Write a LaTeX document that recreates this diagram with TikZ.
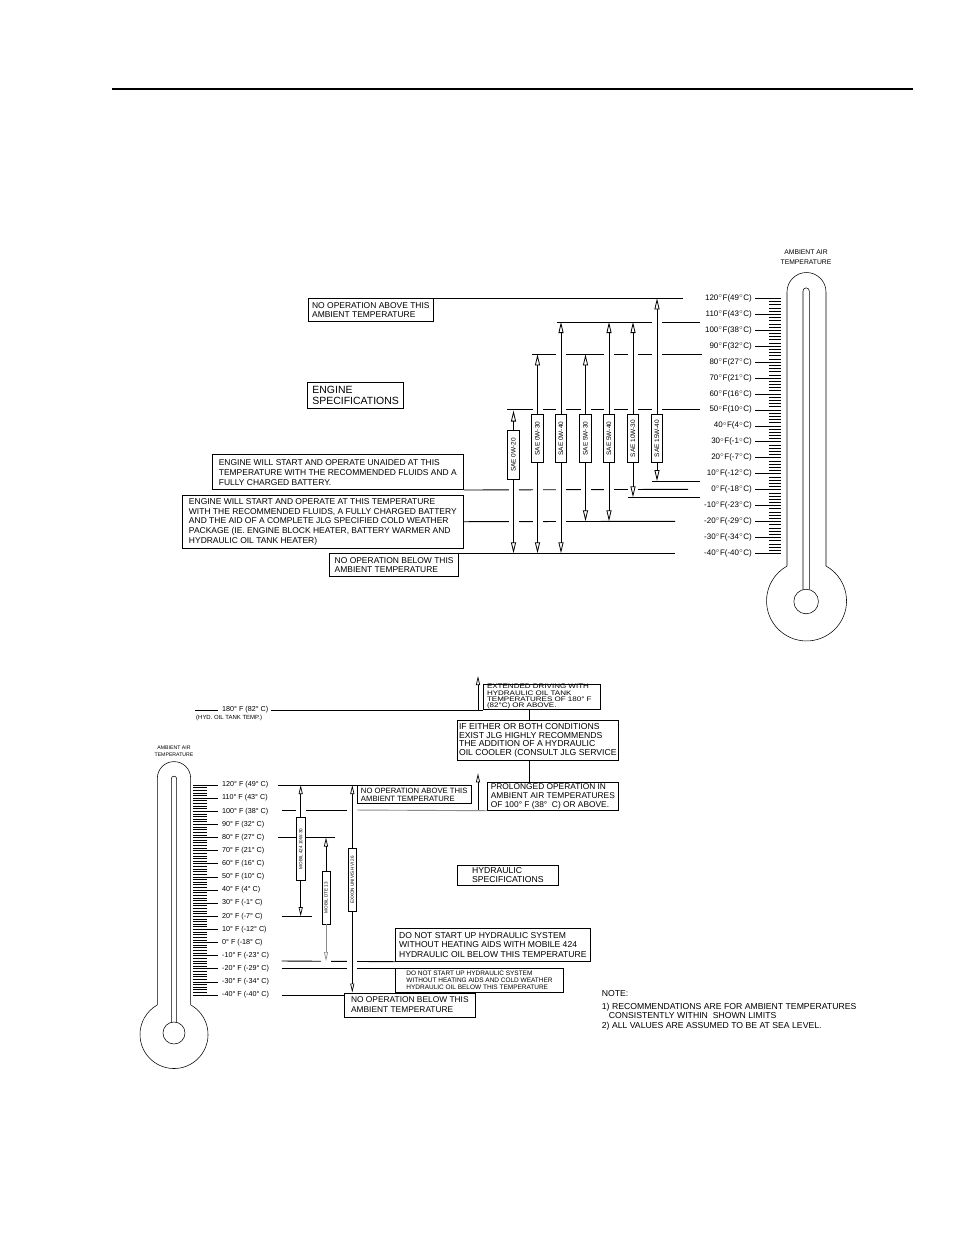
\documentclass[tikz,border=0pt]{standalone}
\usepackage{fontspec}
\setmainfont{Liberation Sans}
\usepackage{tikz}
\usetikzlibrary{arrows.meta}
\newcommand{\tsize}[2]{\fontsize{#1}{#2}\selectfont}
\newcommand{\degsup}{$^{\circ}$}

\begin{document}
\begin{tikzpicture}[x=1bp,y=-1bp,
  font=\tsize{8.5}{9.6},
  box/.style={draw, line width=0.7bp, anchor=north west, align=left, inner sep=1bp},
  rule/.style={draw=black, line width=0.9bp},
  greyrule/.style={draw=black!45, line width=0.9bp},
  gap/.style={draw=white, line width=3.5bp},
  tick/.style={draw=black, line width=0.55bp},
  thermo/.style={draw=black, line width=0.55bp},
  oil/.style={draw=black, line width=0.8bp, -{Triangle[open,length=11bp,width=5bp]}},
  hoil/.style={draw=black, line width=0.7bp, -{Triangle[open,length=9bp,width=4bp]}},
  saebox/.style={draw, fill=white, rotate=90, line width=0.7bp, minimum width=48.5bp, minimum height=11.5bp, inner sep=0pt, font=\tsize{6.5}{7}},
  oilbox/.style={draw, fill=white, rotate=90, line width=0.6bp, minimum height=8.3bp, inner sep=0pt, font=\tsize{4.6}{5}},
  etemp/.style={anchor=east, inner sep=1bp, font=\tsize{8}{8}},
  htemp/.style={anchor=west, inner sep=1bp, font=\tsize{7.2}{8}},
]
\path[fill=white, use as bounding box] (0,0) rectangle (954,1235);
\draw[line width=1.2bp] (112,89) -- (913,89);

% ---------------- engine chart ----------------
\node[box, minimum width=125bp, minimum height=23bp] (eAbove) at (308,298.3) {NO OPERATION ABOVE THIS\\AMBIENT TEMPERATURE};
\node[box, font=\tsize{10.5}{11.5}, minimum width=96bp, minimum height=26.7bp] (eSpec) at (307.3,381.7) {ENGINE\\SPECIFICATIONS};
\node[box, font=\tsize{8.5}{10}, minimum width=251.5bp, minimum height=35bp] (eUnaided) at (211.7,454.3) {ENGINE WILL START AND OPERATE UNAIDED AT THIS\\TEMPERATURE WITH THE RECOMMENDED FLUIDS AND A\\FULLY CHARGED BATTERY.};
\node[box, font=\tsize{8.5}{9.8}, minimum width=281.6bp, minimum height=52.7bp] (eCold) at (181.7,495) {ENGINE WILL START AND OPERATE AT THIS TEMPERATURE\\WITH THE RECOMMENDED FLUIDS, A FULLY CHARGED BATTERY\\AND THE AID OF A COMPLETE JLG SPECIFIED COLD WEATHER\\PACKAGE (IE. ENGINE BLOCK HEATER, BATTERY WARMER AND\\HYDRAULIC OIL TANK HEATER)};
\node[box, minimum width=129bp, minimum height=22.7bp] (eBelow) at (329.3,553.3) {NO OPERATION BELOW THIS\\AMBIENT TEMPERATURE};

\draw[rule] (eAbove.north east) -- (683,298.3);
\draw[rule] (556.7,322) -- (700,322);
\draw[rule] (531.7,354.3) -- (701.7,354.3);
\draw[rule] (507,409.3) -- (700,409.3);
\draw[rule] (652,481) -- (700,481);
\draw[rule] (eUnaided.south east) -- (688,489.3);
\draw[rule] (628,497.3) -- (700,497.3);
\draw[rule] (eCold.east) -- (675,521.3);
\draw[rule] (eBelow.north east) -- (675,553.3);
% breaks where the bars cross
\foreach \y/\xs in {322/{657}, 354.3/{561,609,633,657}, 409.3/{537.5,561,585.5,609,633,657}, 489.3/{513.5,537.5,561,585.5,609,633}, 521.3/{513.5,537.5,561}}
  \foreach \x in \xs \draw[gap] (\x-5,\y) -- (\x+5,\y);

\foreach \i/\x/\ym/\yt/\yb/\oil in {1/513.5/455/410.5/553.3/0W-20, 2/537.5/438.5/354.3/553.3/0W-30, 3/561/438.5/322/553.3/0W-40, 4/585.5/438.5/354.3/521.3/5W-30, 5/609/438.5/322/521.3/5W-40, 6/633/438.5/322/497.3/10W-30, 7/657/438.5/298.3/481/15W-40}{
  \node[saebox] (sae\i) at (\x,\ym) {SAE \oil};
  \coordinate (top\i) at (\x,\yt);
  \coordinate (bot\i) at (\x,\yb);
  \draw[oil] (sae\i.east) -- (top\i);
  \draw[oil] (sae\i.west) -- (bot\i);
}

% thermometer (engine)
\node[font=\tsize{6.8}{10}, align=center] (eHead) at (806,257.5) {AMBIENT AIR\\TEMPERATURE};
\draw[thermo] (787,566) -- (787,292) arc[start angle=180, end angle=360, radius=19.5] -- (826,566) arc[start angle=-60.9, end angle=240.9, radius=40];
\draw[thermo] (803,589.6) -- (803,291) arc[start angle=180, end angle=360, radius=3.15] -- (809.3,589.6);
\draw[thermo] (806.15,601.5) circle[radius=12.3];
\foreach \tf in {-40,-38,...,120}
  \draw[tick] (769,{298.3+(120-(\tf))*1.594}) -- (781,{298.3+(120-(\tf))*1.594});
\coordinate (ebar) at (769,0);
\foreach \tf/\tc [count=\i] in {120/49,110/43,100/38,90/32,80/27,70/21,60/16,50/10,40/4,30/-1,20/-7,10/-12,0/-18,-10/-23,-20/-29,-30/-34,-40/-40}{
  \node[etemp] (et\i) at (753,{298.3+(120-(\tf))*1.594}) {\tf\degsup F(\tc\degsup C)};
  \draw[tick] ([xshift=2bp]et\i.east) -- (et\i.east -| ebar);
}

% ---------------- hydraulic chart ----------------
\node[box, anchor=south west, inner xsep=3.35bp, inner ysep=0.5bp, text width=110bp, font={\tsize{6.6}{6.3}\addfontfeatures{FakeStretch=1.22}}, minimum height=25bp] (hExt) at (483.3,710) {EXTENDED DRIVING WITH\\HYDRAULIC OIL TANK\\TEMPERATURES OF 180° F\\(82°C) OR ABOVE.};
\node[box, font=\tsize{8.7}{8.4}, minimum width=161.6bp, minimum height=40bp] (hIf) at (456.7,720) {IF EITHER OR BOTH CONDITIONS\\EXIST JLG HIGHLY RECOMMENDS\\THE ADDITION OF A HYDRAULIC\\OIL COOLER (CONSULT JLG SERVICE};
\node[box, font=\tsize{8.4}{9.3}, minimum width=131.6bp, minimum height=28.3bp] (hProl) at (486.7,781.7) {PROLONGED OPERATION IN\\AMBIENT AIR TEMPERATURES\\OF 100° F (38°\ \ C) OR ABOVE.};
\node[box, font=\tsize{7.7}{8.3}, minimum width=114.3bp, minimum height=18.3bp] (hAbove) at (356.7,785) {NO OPERATION ABOVE THIS\\AMBIENT TEMPERATURE};
\node[box, font=\tsize{8.7}{9.3}, minimum width=101.6bp, minimum height=20bp] (hSpec) at (456.7,865) {HYDRAULIC\\SPECIFICATIONS};
\node[box, font=\tsize{8.6}{9.3}, minimum width=195bp, minimum height=32.7bp] (hDns1) at (395,928.3) {DO NOT START UP HYDRAULIC SYSTEM\\WITHOUT HEATING AIDS WITH MOBILE 424\\HYDRAULIC OIL BELOW THIS TEMPERATURE};
\node[box, inner ysep=0pt, font=\tsize{6.5}{6.8}, minimum width=168.3bp, minimum height=23.5bp] (hDns2) at (395,968.3) {DO NOT START UP HYDRAULIC SYSTEM\\WITHOUT HEATING AIDS AND COLD WEATHER\\HYDRAULIC OIL BELOW THIS TEMPERATURE};
\node[box, font=\tsize{8.4}{10}, minimum width=131bp, minimum height=24bp] (hBelow) at (344,992.5) {NO OPERATION BELOW THIS\\AMBIENT TEMPERATURE};

\node[htemp] (h180) at (221,710) {180° F (82° C)};
\node[anchor=west, inner sep=1bp, font=\tsize{6}{7}] (hTank) at (195,718.3) {(HYD. OIL TANK TEMP.)};
\draw[tick] (195,710) -- ([xshift=-3bp]h180.west);
\draw[rule] ([xshift=2bp]h180.east) -- (hExt.south west);
\coordinate (cx) at (529,0);
\draw[rule] (hExt.south -| cx) -- (hIf.north -| cx);
\draw[rule] (hIf.south -| cx) -- (hProl.north -| cx);
\coordinate (extTip) at (478,676);
\coordinate (prolTip) at (478,773.3);
\draw[hoil] (hExt.south west -| extTip) -- (extTip);
\draw[hoil] (hProl.south west -| prolTip) -- (prolTip);

\draw[rule] (278.3,785) -- (hAbove.north west);
\draw[rule] (281.7,810) -- (352.3,810);
\draw[greyrule] (352.3,810) -- (hProl.south west);
\draw[rule] (278.3,837.5) -- (335,837.5);
\draw[rule] (281.7,916.2) -- (311.7,916.2);
\draw[rule] (281.7,961) -- (hDns1.south west);
\draw[rule] (281.7,968.3) -- (hDns2.north west);
\draw[rule] (281.7,995) -- (hBelow.west |- 0,995);
\foreach \y/\xs in {810/{300.7,352.3}, 961/{326,352.3}, 968.3/{352.3}}
  \foreach \x in \xs \draw[gap] (\x-5,\y) -- (\x+5,\y);

\foreach \i/\x/\ym/\len/\yt/\yb/\col/\oil in {1/300.7/848.9/62.3/785/916.2/black/MOBIL 424 10W-30, 2/326/897.5/53/837.5/961/black!45/MOBIL DTE 13, 3/352.3/880/63.4/785/992.5/black/EXXON UNIVIS HVI 26}{
  \node[oilbox, minimum width=\len bp] (hyd\i) at (\x,\ym) {\oil};
  \coordinate (hydtop\i) at (\x,\yt);
  \coordinate (hydbot\i) at (\x,\yb);
  \draw[hoil] (hyd\i.east) -- (hydtop\i);
  \draw[hoil, draw=\col] (hyd\i.west) -- (hydbot\i);
}

% thermometer (hydraulic)
\node[font=\tsize{5.2}{7.4}, align=center] (hHead) at (174,751.4) {AMBIENT AIR\\TEMPERATURE};
\draw[thermo] (157.3,1004.9) -- (157.3,778.3) arc[start angle=180, end angle=360, radius=16.7] -- (190.7,1004.9) arc[start angle=-60.6, end angle=240.6, radius=34];
\draw[thermo] (171.3,1022.3) -- (171.3,778.8) arc[start angle=180, end angle=360, radius=2.7] -- (176.7,1022.3);
\draw[thermo] (174,1033) circle[radius=11];
\foreach \tf in {-40,-38,...,120}
  \draw[tick] (193.3,{785+(120-(\tf))*1.3125}) -- (206.7,{785+(120-(\tf))*1.3125});
\coordinate (hbar) at (206.7,0);
\foreach \tf/\tc [count=\i] in {120/49,110/43,100/38,90/32,80/27,70/21,60/16,50/10,40/4,30/-1,20/-7,10/-12,0/-18,-10/-23,-20/-29,-30/-34,-40/-40}{
  \node[htemp] (ht\i) at (221,{785+(120-(\tf))*1.3125}) {\tf° F (\tc° C)};
  \draw[tick] (ht\i.west -| hbar) -- ([xshift=-3bp]ht\i.west);
}

% ---------------- notes ----------------
\node[anchor=west, inner sep=0pt, font=\tsize{8.7}{8.5}] (note) at (601.7,993.3) {NOTE:};
\node[anchor=north west, inner sep=0pt, align=left, font=\tsize{8.7}{8.4}] (note1) at (601.7,1003.2) {1) RECOMMENDATIONS ARE FOR AMBIENT TEMPERATURES\\\hspace*{7bp}CONSISTENTLY WITHIN\ \ SHOWN LIMITS};
\node[anchor=west, inner sep=0pt, font=\tsize{8.7}{8.5}] (note2) at (601.7,1026.7) {2) ALL VALUES ARE ASSUMED TO BE AT SEA LEVEL.};
\end{tikzpicture}
\end{document}
